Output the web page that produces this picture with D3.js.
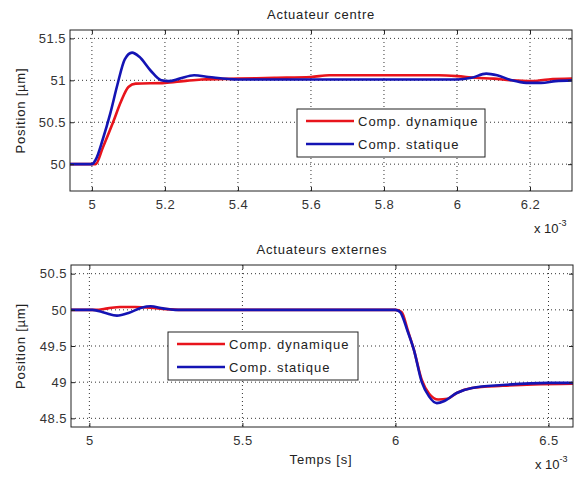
<!DOCTYPE html>
<html>
<head>
<meta charset="utf-8">
<script src="https://d3js.org/d3.v7.min.js"></script>
<style>
  body { margin: 0; background: #fff; }
  text { font-family: "Liberation Sans", Arial, sans-serif; fill: #222; }
</style>
</head>
<body>
<div id="chart"></div>
<script>
// top panel: Actuateur centre (time in ms, i.e. x 10^-3 s)
var tCentre = [4.94, 5.0, 5.01, 5.03, 5.058, 5.08, 5.1, 5.12, 5.2, 5.25, 5.3, 5.4, 5.5, 5.6, 5.65, 5.95, 6.0, 6.05, 6.1, 6.15, 6.2, 6.25, 6.32];
var centreDyn = [50, 50, 50.0, 50.2, 50.5, 50.75, 50.92, 50.96, 50.97, 50.99, 51.01, 51.02, 51.03, 51.04, 51.06, 51.06, 51.05, 51.03, 51.02, 51.0, 50.99, 51.01, 51.02];
var tCentreS = [4.94, 5.0, 5.01, 5.03, 5.05, 5.07, 5.09, 5.11, 5.13, 5.16, 5.19, 5.21, 5.24, 5.28, 5.32, 5.4, 6.0, 6.04, 6.08, 6.11, 6.15, 6.19, 6.23, 6.27, 6.32];
var centreStat = [50, 50, 50.05, 50.3, 50.6, 50.95, 51.25, 51.33, 51.28, 51.12, 51.0, 50.99, 51.02, 51.06, 51.04, 51.01, 51.01, 51.03, 51.08, 51.06, 51.0, 50.97, 50.97, 50.99, 51.0];

// bottom panel: Actuateurs externes
var tExtD = [4.94, 5.02, 5.06, 5.1, 5.15, 5.2, 5.25, 5.3, 6.0, 6.02, 6.04, 6.06, 6.086, 6.11, 6.14, 6.17, 6.2, 6.25, 6.35, 6.45, 6.58];
var extDyn = [50, 50, 50.02, 50.04, 50.04, 50.03, 50.01, 50.0, 50.0, 49.97, 49.72, 49.45, 49.03, 48.84, 48.76, 48.77, 48.85, 48.92, 48.95, 48.97, 48.98];
var tExtS = [4.94, 5.01, 5.05, 5.09, 5.13, 5.17, 5.2, 5.24, 5.28, 6.0, 6.015, 6.04, 6.06, 6.086, 6.11, 6.135, 6.16, 6.2, 6.25, 6.35, 6.5, 6.58];
var extStat = [50, 50, 49.96, 49.92, 49.96, 50.03, 50.05, 50.02, 50.0, 50, 49.97, 49.7, 49.45, 49.0, 48.8, 48.71, 48.74, 48.85, 48.92, 48.96, 48.99, 48.99];

var xTicksTop = [5, 5.2, 5.4, 5.6, 5.8, 6, 6.2];
var yTicksTop = [50, 50.5, 51, 51.5];
var xTicksBot = [5, 5.5, 6, 6.5];
var yTicksBot = [48.5, 49, 49.5, 50, 50.5];
var seriesNames = ["Comp. dynamique", "Comp. statique"];
var colours = ["#e8141c", "#1414b4"];

var width = 579, height = 480;
var svg = d3.select("#chart").append("svg")
    .attr("width", width)
    .attr("height", height);

function panel(opt) {
    var x = d3.scaleLinear().domain(opt.xd).range([opt.left, opt.right]);
    var y = d3.scaleLinear().domain(opt.yd).range([opt.bottom, opt.top]);
    var g = svg.append("g");
    var w = opt.right - opt.left, h = opt.bottom - opt.top;

    g.append("rect")
        .attr("x", opt.left).attr("y", opt.top)
        .attr("width", w).attr("height", h)
        .style("fill", "#fff");

    // dotted grid
    g.selectAll(".gx").data(opt.xt).enter().append("line")
        .attr("x1", function(d) { return x(d); })
        .attr("x2", function(d) { return x(d); })
        .attr("y1", opt.top).attr("y2", opt.bottom)
        .style("stroke", "#333").style("stroke-width", 1)
        .style("stroke-dasharray", "1,3");
    g.selectAll(".gy").data(opt.yt).enter().append("line")
        .attr("y1", function(d) { return y(d); })
        .attr("y2", function(d) { return y(d); })
        .attr("x1", opt.left).attr("x2", opt.right)
        .style("stroke", "#333").style("stroke-width", 1)
        .style("stroke-dasharray", "1,3");

    var clipId = "clip" + opt.id;
    svg.append("clipPath").attr("id", clipId).append("rect")
        .attr("x", opt.left).attr("y", opt.top).attr("width", w).attr("height", h);

    var line = d3.line()
        .x(function(d) { return x(d[0]); })
        .y(function(d) { return y(d[1]); })
        .curve(d3.curveMonotoneX);

    opt.series.forEach(function(s, i) {
        g.append("path")
            .datum(d3.zip(s[0], s[1]))
            .attr("d", line)
            .attr("clip-path", "url(#" + clipId + ")")
            .style("fill", "none")
            .style("stroke", colours[i])
            .style("stroke-width", 2.6)
            .style("stroke-linejoin", "round");
    });

    // axes with inward ticks
    var ax = d3.axisBottom(x).tickValues(opt.xt).tickSize(-4).tickPadding(9)
        .tickFormat(d3.format("~g"));
    var ax2 = d3.axisTop(x).tickValues(opt.xt).tickSize(-4).tickFormat("");
    var ay = d3.axisLeft(y).tickValues(opt.yt).tickSize(-4).tickPadding(4)
        .tickFormat(d3.format("~g"));
    var ay2 = d3.axisRight(y).tickValues(opt.yt).tickSize(-4).tickFormat("");
    [[ax, "translate(0," + opt.bottom + ")"], [ax2, "translate(0," + opt.top + ")"],
     [ay, "translate(" + opt.left + ",0)"], [ay2, "translate(" + opt.right + ",0)"]].forEach(function(a) {
        var sel = g.append("g").attr("transform", a[1]).call(a[0]);
        sel.select(".domain").remove();
        sel.selectAll("line").style("stroke", "#222");
        sel.selectAll("text").style("font-size", "13px").style("letter-spacing", "0.5px")
            .style("font-family", "'Liberation Sans', Arial, sans-serif").style("fill", "#333");
    });

    g.append("rect")
        .attr("x", opt.left).attr("y", opt.top)
        .attr("width", w).attr("height", h)
        .style("fill", "none").style("stroke", "#222").style("stroke-width", 1);

    g.append("text")
        .attr("x", (opt.left + opt.right) / 2).attr("y", opt.top - 11)
        .attr("text-anchor", "middle").style("font-size", "13px")
        .style("letter-spacing", "0.8px")
        .text(opt.title);

    g.append("text")
        .attr("transform", "translate(25," + (opt.top + opt.bottom) / 2 + ") rotate(-90)")
        .attr("text-anchor", "middle").style("font-size", "13px")
        .style("letter-spacing", "0.8px")
        .text("Position [µm]");

    var ex = g.append("text").attr("x", opt.right - 38).attr("y", opt.bottom + 42)
        .style("font-size", "13px");
    ex.append("tspan").text("x 10");
    ex.append("tspan").attr("dy", -7).style("font-size", "9px").text("-3");

    // legend
    var lg = g.append("g").attr("transform", "translate(" + opt.legend[0] + "," + opt.legend[1] + ")");
    lg.append("rect").attr("width", opt.legend[2]).attr("height", 48)
        .style("fill", "#fff").style("stroke", "#222").style("stroke-width", 1);
    seriesNames.forEach(function(n, i) {
        var yy = 12 + i * 23;
        lg.append("line").attr("x1", 9).attr("x2", 57).attr("y1", yy).attr("y2", yy)
            .style("stroke", colours[i]).style("stroke-width", 2.6);
        lg.append("text").attr("x", 61).attr("y", yy + 5)
            .style("font-size", "13px").style("letter-spacing", "1px").text(n);
    });
    return g;
}

panel({
    id: 1, left: 70, right: 572, top: 30, bottom: 191,
    xd: [4.94, 6.315], yd: [49.68, 51.6],
    xt: xTicksTop, yt: yTicksTop, title: "Actuateur centre",
    series: [[tCentre, centreDyn], [tCentreS, centreStat]],
    legend: [297, 109, 188]
});

var g2 = panel({
    id: 2, left: 71, right: 573, top: 265, bottom: 427,
    xd: [4.94, 6.58], yd: [48.38, 50.62],
    xt: xTicksBot, yt: yTicksBot, title: "Actuateurs externes",
    series: [[tExtD, extDyn], [tExtS, extStat]],
    legend: [168, 332, 190]
});

g2.append("text").attr("x", 321).attr("y", 464)
    .attr("text-anchor", "middle").style("font-size", "13px")
    .style("letter-spacing", "0.8px")
    .text("Temps [s]");
</script>
</body>
</html>
